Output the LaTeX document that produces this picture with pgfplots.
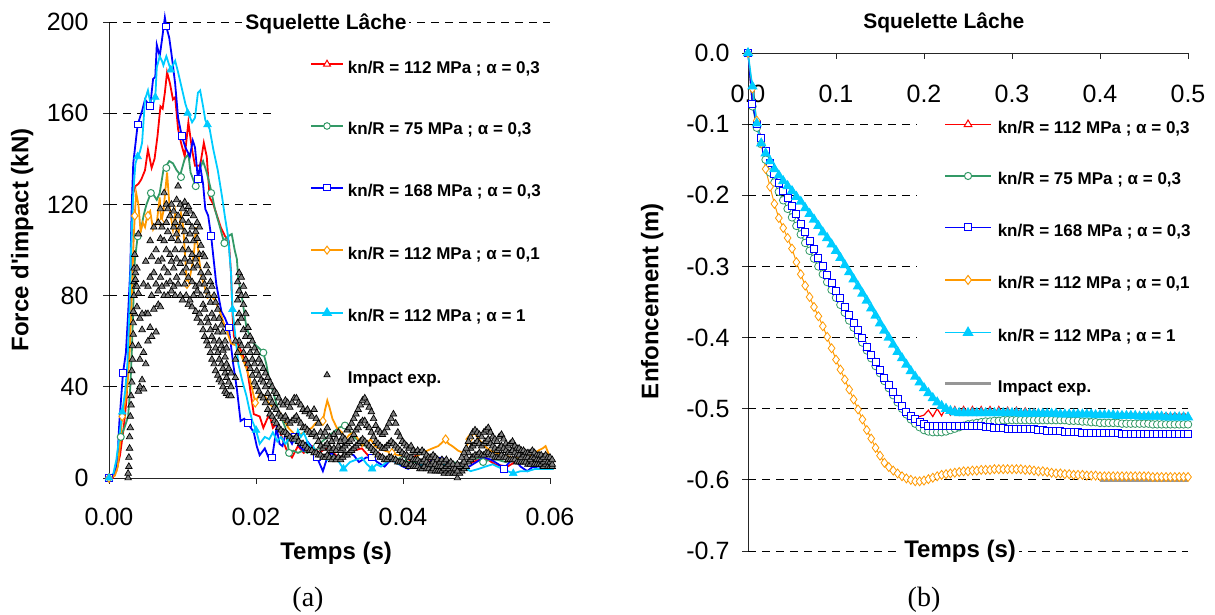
\documentclass[border=0pt]{standalone}
\usepackage{fontspec}
\setmainfont{Liberation Sans}
\newfontfamily\nolig{Liberation Sans}
\newfontfamily\serifcap{Liberation Serif}
\usepackage{pgfplots}
\usepackage{pgfplotstable}
\pgfplotsset{compat=1.18}

\definecolor{cred}{RGB}{255,0,0}
\definecolor{cgreen}{RGB}{51,153,102}
\definecolor{cblue}{RGB}{0,0,255}
\definecolor{corange}{RGB}{255,153,0}
\definecolor{ccyan}{RGB}{0,204,255}
\definecolor{cexpf}{RGB}{128,128,128}
\definecolor{cexpl}{RGB}{150,150,150}

\pgfplotstableread{
t a b c d e
0.0026 0 2 nan nan nan
0.0027 5 9 nan nan nan
0.0028 13 18 nan nan nan
0.0029 22 27 nan nan nan
0.0030 32 36 nan nan nan
0.0031 42 47 nan nan nan
0.0032 52 58 nan nan nan
0.0033 63 68 73 nan nan
0.0034 80 86 92 nan nan
0.0035 98 72 nan nan nan
0.0036 90 84 87 nan nan
0.0038 75 84 92 nan nan
0.0040 38 58 81 107 nan
0.0042 40 52 70 nan nan
0.0045 43 65 72 nan nan
0.0047 39 55 85 nan nan
0.0050 50 72 95 nan nan
0.0053 60 72 84 nan nan
0.0056 66 88 104 nan nan
0.0058 62 80 97 nan nan
0.0061 74 90 110 nan nan
0.0064 64 85 100 nan nan
0.0067 76 82 95 112 nan
0.0070 75 88 105 118 nan
0.0072 84 96 110 nan nan
0.0075 80 92 104 125 nan
0.0078 85 100 112 120 nan
0.0080 80 90 108 118 nan
0.0083 86 98 115 nan nan
0.0085 82 95 105 120 nan
0.0088 84 92 110 117 nan
0.0090 80 100 112 nan nan
0.0092 88 96 107 122 nan
0.0094 85 104 115 128 nan
0.0097 80 94 110 120 nan
0.0100 78 90 100 113 118
0.0103 85 96 108 121 nan
0.0105 80 92 104 116 nan
0.0108 76 88 100 112 119
0.0110 78 95 107 117 nan
0.0113 75 86 98 110 nan
0.0115 80 92 104 115 nan
0.0118 73 84 96 108 nan
0.0120 70 82 93 105 112
0.0123 72 85 98 110 nan
0.0125 68 80 90 102 nan
0.0128 65 76 88 98 nan
0.0130 62 74 85 97 nan
0.0133 60 70 82 93 nan
0.0135 58 68 80 90 nan
0.0138 55 65 77 86 nan
0.0140 52 62 72 84 nan
0.0143 50 60 70 80 nan
0.0145 47 57 66 77 nan
0.0148 45 55 64 74 nan
0.0150 43 52 60 70 nan
0.0153 42 50 58 67 nan
0.0155 40 48 56 64 nan
0.0158 38 46 53 60 nan
0.0160 37 44 50 57 nan
0.0163 36 42 48 nan nan
0.0166 36 40 46 nan nan
0.0172 44 52 60 nan nan
0.0175 55 68 78 86 nan
0.0177 60 72 82 90 nan
0.0180 58 70 80 88 nan
0.0183 55 65 76 84 nan
0.0186 52 62 72 80 nan
0.0189 50 58 66 nan nan
0.0192 48 55 62 nan nan
0.0195 45 52 60 nan nan
0.0198 42 50 57 nan nan
0.0201 40 47 55 nan nan
0.0204 38 45 52 nan nan
0.0207 36 43 50 nan nan
0.0210 35 42 48 nan nan
0.0213 33 40 46 nan nan
0.0216 30 37 44 nan nan
0.0219 28 35 42 nan nan
0.0222 27 33 40 nan nan
0.0225 25 31 38 nan nan
0.0228 24 30 37 nan nan
0.0231 22 28 35 nan nan
0.0234 21 27 33 nan nan
0.0237 20 26 32 nan nan
0.0240 20 27 34 nan nan
0.0243 19 25 33 nan nan
0.0246 18 24 31 nan nan
0.0249 17 25 33 nan nan
0.0252 17 26 35 nan nan
0.0255 18 27 35 nan nan
0.0258 16 25 33 nan nan
0.0261 15 24 32 nan nan
0.0264 15 22 30 nan nan
0.0267 14 22 29 nan nan
0.0270 13 21 30 nan nan
0.0273 12 20 28 nan nan
0.0276 12 19 27 nan nan
0.0279 11 20 30 nan nan
0.0282 11 18 26 nan nan
0.0285 10 16 24 nan nan
0.0288 10 14 20 nan nan
0.0291 9 13 18 nan nan
0.0294 9 14 20 nan nan
0.0297 10 15 22 nan nan
0.0300 9 13 18 nan nan
0.0303 8 12 16 nan nan
0.0306 9 13 19 nan nan
0.0309 8 12 17 nan nan
0.0312 9 14 20 nan nan
0.0315 8 12 16 nan nan
0.0318 9 13 18 nan nan
0.0321 10 14 17 nan nan
0.0324 10 15 21 nan nan
0.0327 11 16 22 nan nan
0.0330 12 17 24 nan nan
0.0333 13 19 26 nan nan
0.0336 14 21 28 nan nan
0.0339 15 22 30 nan nan
0.0342 16 24 32 nan nan
0.0345 17 25 34 nan nan
0.0348 16 25 35 nan nan
0.0351 15 23 33 nan nan
0.0354 14 22 31 nan nan
0.0357 13 20 29 nan nan
0.0360 12 18 26 nan nan
0.0363 11 16 23 nan nan
0.0366 10 15 21 nan nan
0.0369 9 14 20 nan nan
0.0372 9 13 19 nan nan
0.0375 8 13 20 nan nan
0.0378 8 14 22 nan nan
0.0381 9 15 24 nan nan
0.0384 9 16 26 nan nan
0.0387 8 15 28 nan nan
0.0390 8 14 24 nan nan
0.0393 7 13 20 nan nan
0.0396 7 12 18 nan nan
0.0399 7 11 16 nan nan
0.0402 6 10 15 nan nan
0.0405 6 10 14 nan nan
0.0408 5 9 13 nan nan
0.0411 6 9 14 nan nan
0.0414 5 8 12 nan nan
0.0417 5 8 11 nan nan
0.0420 5 8 12 nan nan
0.0423 4 7 11 nan nan
0.0426 4 7 12 nan nan
0.0429 5 8 11 nan nan
0.0432 4 7 10 nan nan
0.0435 4 6 9 nan nan
0.0438 3 6 9 nan nan
0.0441 4 7 10 nan nan
0.0444 3 6 9 nan nan
0.0447 3 5 8 nan nan
0.0450 3 5 7 nan nan
0.0453 3 5 8 nan nan
0.0456 2 4 7 nan nan
0.0459 3 5 8 nan nan
0.0462 2 4 6 nan nan
0.0465 3 5 7 nan nan
0.0468 2 4 6 nan nan
0.0471 2 4 nan nan nan
0.0474 0 3 6 nan nan
0.0477 2 5 nan nan nan
0.0480 3 6 9 nan nan
0.0483 4 7 11 nan nan
0.0486 5 9 13 nan nan
0.0489 7 11 16 nan nan
0.0492 8 13 18 nan nan
0.0495 9 14 20 nan nan
0.0498 10 15 21 nan nan
0.0501 10 16 20 nan nan
0.0504 11 15 19 nan nan
0.0507 10 14 18 nan nan
0.0510 10 15 20 nan nan
0.0513 11 16 21 nan nan
0.0516 11 17 22 nan nan
0.0519 10 15 20 nan nan
0.0522 10 14 18 nan nan
0.0525 9 13 17 nan nan
0.0528 9 12 16 nan nan
0.0531 9 13 18 nan nan
0.0534 10 14 19 nan nan
0.0537 9 13 17 nan nan
0.0540 9 12 15 nan nan
0.0543 8 11 14 nan nan
0.0546 8 11 15 nan nan
0.0549 8 12 16 nan nan
0.0552 8 11 14 nan nan
0.0555 7 10 13 nan nan
0.0558 7 10 13 nan nan
0.0561 7 9 12 nan nan
0.0564 7 10 12 nan nan
0.0567 7 9 11 nan nan
0.0570 6 9 11 nan nan
0.0573 6 8 11 nan nan
0.0576 7 9 12 nan nan
0.0579 6 9 11 nan nan
0.0582 6 8 10 nan nan
0.0585 6 8 10 nan nan
0.0588 6 8 10 nan nan
0.0591 5 7 9 nan nan
0.0594 6 8 10 nan nan
0.0597 5 7 9 nan nan
0.0600 5 7 9 nan nan
0.0603 5 6 8 nan nan
}\expdata

\pgfplotstableread{
t r g b o c
0.000 0 0 0 0 0
0.005 -0.072 -0.075 -0.072 -0.050 -0.047
0.010 -0.100 -0.105 -0.100 -0.095 -0.099
0.015 -0.120 -0.128 -0.120 -0.127 -0.127
0.020 -0.138 -0.150 -0.138 -0.163 -0.141
0.025 -0.155 -0.168 -0.155 -0.188 -0.152
0.030 -0.170 -0.182 -0.170 -0.212 -0.163
0.035 -0.183 -0.195 -0.183 -0.232 -0.172
0.040 -0.194 -0.207 -0.194 -0.246 -0.180
0.045 -0.204 -0.219 -0.204 -0.260 -0.187
0.050 -0.215 -0.231 -0.215 -0.275 -0.194
0.055 -0.227 -0.243 -0.227 -0.294 -0.202
0.060 -0.240 -0.255 -0.240 -0.311 -0.209
0.065 -0.252 -0.267 -0.252 -0.327 -0.218
0.070 -0.264 -0.278 -0.264 -0.343 -0.226
0.075 -0.276 -0.289 -0.276 -0.357 -0.234
0.080 -0.288 -0.300 -0.288 -0.370 -0.243
0.085 -0.300 -0.311 -0.300 -0.384 -0.252
0.090 -0.312 -0.322 -0.312 -0.399 -0.260
0.095 -0.323 -0.333 -0.323 -0.415 -0.269
0.100 -0.334 -0.344 -0.334 -0.431 -0.278
0.105 -0.345 -0.354 -0.345 -0.445 -0.288
0.110 -0.357 -0.365 -0.357 -0.459 -0.298
0.115 -0.368 -0.376 -0.368 -0.473 -0.308
0.120 -0.379 -0.386 -0.379 -0.487 -0.318
0.125 -0.390 -0.397 -0.390 -0.501 -0.328
0.130 -0.401 -0.407 -0.401 -0.515 -0.338
0.135 -0.413 -0.418 -0.413 -0.530 -0.348
0.140 -0.424 -0.429 -0.424 -0.542 -0.359
0.145 -0.435 -0.440 -0.435 -0.555 -0.369
0.150 -0.446 -0.450 -0.446 -0.566 -0.380
0.155 -0.457 -0.461 -0.457 -0.576 -0.390
0.160 -0.467 -0.471 -0.467 -0.582 -0.400
0.165 -0.477 -0.481 -0.477 -0.587 -0.410
0.170 -0.487 -0.491 -0.487 -0.591 -0.420
0.175 -0.495 -0.500 -0.496 -0.595 -0.429
0.180 -0.502 -0.508 -0.504 -0.598 -0.438
0.185 -0.507 -0.515 -0.510 -0.600 -0.447
0.190 -0.510 -0.521 -0.515 -0.602 -0.455
0.195 -0.511 -0.526 -0.519 -0.602 -0.463
0.200 -0.509 -0.530 -0.522 -0.601 -0.471
0.205 -0.502 -0.532 -0.524 -0.599 -0.478
0.210 -0.511 -0.533 -0.525 -0.597 -0.485
0.215 -0.500 -0.533 -0.525 -0.595 -0.491
0.220 -0.510 -0.533 -0.525 -0.593 -0.496
0.225 -0.498 -0.532 -0.525 -0.592 -0.500
0.230 -0.509 -0.530 -0.525 -0.591 -0.503
0.235 -0.497 -0.528 -0.525 -0.590 -0.505
0.240 -0.509 -0.526 -0.525 -0.589 -0.506
0.245 -0.497 -0.524 -0.525 -0.588 -0.506
0.250 -0.509 -0.522 -0.525 -0.588 -0.506
0.255 -0.497 -0.521 -0.525 -0.587 -0.506
0.260 -0.509 -0.520 -0.525 -0.587 -0.506
0.265 -0.497 -0.519 -0.525 -0.586 -0.506
0.270 -0.509 -0.518 -0.526 -0.586 -0.506
0.275 -0.497 -0.518 -0.526 -0.586 -0.506
0.280 -0.509 -0.517 -0.527 -0.585 -0.506
0.285 -0.497 -0.517 -0.527 -0.585 -0.506
0.290 -0.509 -0.516 -0.527 -0.585 -0.506
0.295 -0.498 -0.516 -0.528 -0.585 -0.506
0.300 -0.509 -0.516 -0.528 -0.585 -0.506
0.305 -0.498 -0.516 -0.528 -0.585 -0.506
0.310 -0.509 -0.516 -0.528 -0.585 -0.507
0.315 -0.499 -0.516 -0.529 -0.586 -0.507
0.320 -0.509 -0.516 -0.529 -0.586 -0.507
0.325 -0.500 -0.516 -0.529 -0.587 -0.507
0.330 -0.509 -0.516 -0.530 -0.588 -0.507
0.335 -0.501 -0.516 -0.530 -0.588 -0.507
0.340 -0.509 -0.516 -0.531 -0.589 -0.507
0.345 -0.502 -0.516 -0.531 -0.590 -0.507
0.350 -0.509 -0.516 -0.532 -0.591 -0.507
0.355 -0.503 -0.516 -0.532 -0.591 -0.508
0.360 -0.509 -0.516 -0.533 -0.592 -0.508
0.365 -0.503 -0.517 -0.533 -0.592 -0.508
0.370 -0.509 -0.517 -0.533 -0.593 -0.508
0.375 -0.503 -0.517 -0.533 -0.593 -0.508
0.380 -0.509 -0.518 -0.534 -0.593 -0.508
0.385 -0.504 -0.518 -0.534 -0.594 -0.508
0.390 -0.510 -0.519 -0.534 -0.594 -0.508
0.395 -0.504 -0.519 -0.534 -0.594 -0.509
0.400 -0.510 -0.520 -0.534 -0.595 -0.509
0.405 -0.505 -0.520 -0.534 -0.595 -0.509
0.410 -0.510 -0.520 -0.534 -0.595 -0.509
0.415 -0.505 -0.520 -0.534 -0.595 -0.509
0.420 -0.510 -0.520 -0.534 -0.595 -0.510
0.425 -0.505 -0.521 -0.535 -0.595 -0.510
0.430 -0.510 -0.521 -0.535 -0.595 -0.510
0.435 -0.505 -0.521 -0.535 -0.595 -0.510
0.440 -0.510 -0.521 -0.535 -0.595 -0.510
0.445 -0.506 -0.521 -0.535 -0.595 -0.511
0.450 -0.510 -0.521 -0.535 -0.595 -0.511
0.455 -0.506 -0.521 -0.535 -0.595 -0.511
0.460 -0.510 -0.522 -0.535 -0.596 -0.511
0.465 -0.506 -0.522 -0.536 -0.596 -0.511
0.470 -0.510 -0.522 -0.536 -0.596 -0.511
0.475 -0.506 -0.522 -0.536 -0.596 -0.512
0.480 -0.510 -0.522 -0.536 -0.596 -0.512
0.485 -0.506 -0.522 -0.536 -0.596 -0.512
0.490 -0.510 -0.522 -0.536 -0.596 -0.512
0.495 -0.506 -0.522 -0.536 -0.596 -0.512
0.500 -0.510 -0.522 -0.536 -0.596 -0.512
}\enfdata

\pgfplotsset{
  panel/.style={
    scale only axis, clip=false,
    axis line style={black!85, line width=0.8pt, -},
    tick style={black!85, line width=0.8pt},
    major tick length=6pt,
    tick label style={font=\fontsize{25}{28}\selectfont},
    label style={font=\fontsize{24}{28}\selectfont\bfseries},
    title style={font=\fontsize{21}{24}\selectfont\bfseries, fill=white, inner sep=3pt},
    legend cell align=left,
    scaled x ticks=false, scaled y ticks=false,
  },
  gridl/.style={black, line width=0.8pt, dash pattern=on 8pt off 6pt, forget plot},
}

\begin{document}
\begin{tikzpicture}
\useasboundingbox (0pt,0pt) rectangle (1215pt,615pt);

% ---------------- Panel (a) ----------------
\begin{axis}[panel,
  at={(109pt,137pt)}, anchor=south west,
  width=441pt, height=456pt,
  xmin=0, xmax=0.06, ymin=0, ymax=200,
  axis x line*=bottom, axis y line*=left,
  xtick align=outside, ytick align=outside,
  xtick={0,0.02,0.04,0.06}, xticklabels={0.00,0.02,0.04,0.06},
  ytick={0,40,80,120,160,200}, yticklabels={0,40,80,120,160,200},
  xticklabel style={yshift=-21pt},
  yticklabel style={xshift=-11pt},
  title={Squelette Lâche}, title style={at={(0.492,0.983)}, anchor=center},
  xlabel={Temps (s)}, xlabel style={at={(0.515,-0.166)}, anchor=center},
  ylabel={\nolig\bfseries Force d'impact (kN)}, ylabel style={at={(-0.197,0.522)}, anchor=center},
  legend image code/.code={\draw[mark repeat=2,mark phase=2,#1] plot coordinates {(0pt,5pt) (16pt,5pt) (32pt,5pt)};},
  legend style={at={(0.374,0.943)}, anchor=north west, draw=none, fill=none,
    inner xsep=36pt, inner ysep=12pt, row sep=45.5pt, column sep=4pt,
    font=\fontsize{17}{20}\selectfont\bfseries,
    nodes={inner sep=0pt, text height=12pt, text depth=4pt}},
]
% grid lines
\addplot[gridl] coordinates {(0,40)(0.0223,40)};
\addplot[gridl] coordinates {(0,80)(0.0223,80)};
\addplot[gridl] coordinates {(0,120)(0.0223,120)};
\addplot[gridl] coordinates {(0,160)(0.0223,160)};
\addplot[gridl] coordinates {(0,200)(0.06,200)};
% red
\addplot[cred, line width=1.8pt, forget plot] coordinates {
(0,0)(0.0005,0)(0.0010,3)(0.0015,10)(0.0020,22)(0.0024,35)(0.0027,60)(0.0030,100)(0.0033,125)(0.0036,128)(0.0040,129)(0.0044,131)(0.0049,135)(0.0053,144)(0.0058,136)(0.0062,140)(0.0066,150)(0.0070,163)(0.0073,162)(0.0076,169)(0.0079,178)(0.0083,173)(0.0087,166)(0.0090,167)(0.0094,153)(0.0098,147)(0.0103,141)(0.0108,156)(0.0113,144)(0.0117,137)(0.0124,137)(0.0129,147)(0.0133,141)(0.0137,123)(0.0142,120)(0.0147,115)(0.0152,110)(0.0158,106)(0.0163,104)(0.0166,90)(0.0168,72)(0.0170,62)(0.0178,57)(0.0187,50)(0.0192,39)(0.0197,28)(0.0205,27)(0.0210,22)(0.0218,28)(0.0223,22)(0.0229,24)(0.0236,17)(0.0242,12)(0.0249,9)(0.0257,14)(0.0265,11)(0.0276,14)(0.0286,11)(0.0295,13)(0.0302,12)(0.0312,9)(0.0323,10)(0.0333,12)(0.0344,13)(0.0355,9)(0.0367,11)(0.0377,8)(0.0385,9)(0.0396,7)(0.0407,7)(0.0418,10)(0.0428,11)(0.0440,7)(0.0453,8)(0.0466,5)(0.0480,6)(0.0495,7)(0.0511,9)(0.0525,6)(0.0542,5)(0.0558,8)(0.0574,7)(0.0590,5)(0.0605,4)};
% green
\addplot[cgreen, line width=1.8pt, forget plot] coordinates {
(0,0)(0.0008,2)(0.0013,10)(0.0016,18)(0.0021,22)(0.0026,27)(0.0029,40)(0.0031,55)(0.0033,75)(0.0035,95)(0.0039,106)(0.0043,108)(0.0047,115)(0.0051,120)(0.0057,125)(0.0061,124)(0.0065,122)(0.0069,125)(0.0074,135)(0.0078,137)(0.0082,139)(0.0087,138)(0.0092,135)(0.0097,133)(0.0103,140)(0.0108,142)(0.0111,134)(0.0118,128)(0.0124,136)(0.0128,139)(0.0133,134)(0.0139,126)(0.0144,118)(0.0151,110)(0.0156,104)(0.0162,106)(0.0167,107)(0.0171,100)(0.0174,96)(0.0176,87)(0.0181,79)(0.0187,66)(0.0192,62)(0.0197,59)(0.0204,57)(0.0210,55)(0.0214,50)(0.0218,43)(0.0224,37)(0.0229,31)(0.0235,26)(0.0240,22)(0.0245,11)(0.0251,12)(0.0257,11)(0.0264,12)(0.0270,11)(0.0277,13)(0.0283,14)(0.0290,16)(0.0297,18)(0.0305,20)(0.0312,22)(0.0321,23)(0.0327,21)(0.0333,18)(0.0341,16)(0.0349,14)(0.0357,12)(0.0365,11)(0.0375,9)(0.0387,9)(0.0399,8)(0.0408,7)(0.0417,7)(0.0428,8)(0.0438,9)(0.0455,8)(0.0468,7)(0.0480,6)(0.0493,8)(0.0505,9)(0.0509,7)(0.0518,8)(0.0528,8)(0.0540,7)(0.0555,9)(0.0568,7)(0.0580,5)(0.0592,6)(0.0605,5)};
\addplot[only marks, mark=*, mark size=3.5pt, mark options={draw=cgreen, fill=white, line width=1pt}, forget plot] coordinates {
(0,0)(0.0016,18)(0.0039,106)(0.0057,125)(0.0078,136)(0.0098,132)(0.0118,128)(0.0139,125)(0.0157,103)(0.0210,55)(0.0245,11)(0.0283,14)(0.0321,23)(0.0399,8)(0.0509,7)};
% blue
\addplot[cblue, line width=1.8pt, forget plot] coordinates {
(0,0)(0.0006,1)(0.0011,5)(0.0014,24)(0.0019,46)(0.0023,55)(0.0026,72)(0.0029,92)(0.0031,120)(0.0033,138)(0.0039,155)(0.0045,161)(0.0049,166)(0.0056,163)(0.0060,175)(0.0063,176)(0.0065,190)(0.0069,185)(0.0072,192)(0.0076,202)(0.0078,198)(0.0082,193)(0.0085,186)(0.0090,173)(0.0094,158)(0.0099,150)(0.0104,145)(0.0110,141)(0.0114,148)(0.0117,145)(0.0121,131)(0.0124,137)(0.0128,129)(0.0131,118)(0.0135,115)(0.0139,106)(0.0142,97)(0.0146,85)(0.0150,78)(0.0153,73)(0.0158,70)(0.0163,66)(0.0166,58)(0.0169,50)(0.0174,39)(0.0179,25)(0.0184,26)(0.0189,24)(0.0193,22)(0.0197,20)(0.0201,14)(0.0205,10)(0.0212,13)(0.0217,9)(0.0222,9)(0.0228,22)(0.0232,15)(0.0236,14)(0.0240,19)(0.0244,18)(0.0249,15)(0.0253,18)(0.0259,14)(0.0265,12)(0.0270,16)(0.0275,14)(0.0280,11)(0.0283,9)(0.0287,6)(0.0291,3)(0.0296,8)(0.0302,11)(0.0310,9)(0.0317,8)(0.0325,11)(0.0333,10)(0.0340,7)(0.0350,9)(0.0358,9)(0.0365,7)(0.0375,5)(0.0383,8)(0.0390,7)(0.0400,5)(0.0407,4)(0.0418,6)(0.0430,5)(0.0440,8)(0.0453,9)(0.0465,6)(0.0480,5)(0.0490,5)(0.0500,7)(0.0510,9)(0.0520,8)(0.0530,6)(0.0537,4)(0.0545,7)(0.0550,9)(0.0560,5)(0.0569,3)(0.0577,5)(0.0584,4)(0.0595,6)(0.0605,5)};
\addplot[only marks, mark=square*, mark size=3.4pt, mark options={draw=cblue, fill=white, line width=1pt}, forget plot] coordinates {
(0,0)(0.0019,46)(0.0039,155)(0.0056,163)(0.0078,198)(0.0099,150)(0.0121,131)(0.0139,106)(0.0163,66)(0.0189,24)(0.0222,9)(0.0253,18)(0.0283,9)(0.0358,9)(0.0537,4)};
% orange
\addplot[corange, line width=1.8pt, forget plot] coordinates {
(0,0)(0.0008,1)(0.0012,5)(0.0015,15)(0.0018,27)(0.0022,33)(0.0025,40)(0.0028,55)(0.0031,80)(0.0033,100)(0.0035,115)(0.0037,125)(0.0040,120)(0.0043,108)(0.0046,112)(0.0049,110)(0.0052,115)(0.0056,117)(0.0060,109)(0.0065,112)(0.0069,123)(0.0071,112)(0.0074,117)(0.0079,134)(0.0081,125)(0.0083,117)(0.0087,109)(0.0090,116)(0.0093,103)(0.0098,116)(0.0101,110)(0.0103,100)(0.0106,85)(0.0110,88)(0.0113,93)(0.0116,100)(0.0118,110)(0.0121,101)(0.0123,95)(0.0126,88)(0.0130,84)(0.0134,79)(0.0139,80)(0.0144,78)(0.0148,75)(0.0152,72)(0.0156,68)(0.0160,65)(0.0166,59)(0.0174,58)(0.0181,53)(0.0187,48)(0.0192,43)(0.0199,33)(0.0205,37)(0.0212,36)(0.0217,33)(0.0223,31)(0.0229,30)(0.0234,28)(0.0239,25)(0.0244,22)(0.0250,20)(0.0255,18)(0.0260,19)(0.0265,20)(0.0271,21)(0.0276,22)(0.0281,24)(0.0286,25)(0.0291,25)(0.0294,30)(0.0297,34)(0.0300,31)(0.0304,26)(0.0310,22)(0.0317,20)(0.0322,17)(0.0327,19)(0.0333,20)(0.0339,17)(0.0344,14)(0.0350,15)(0.0356,17)(0.0362,14)(0.0367,13)(0.0375,12)(0.0385,11)(0.0393,10)(0.0400,10)(0.0410,9)(0.0417,9)(0.0425,11)(0.0433,12)(0.0440,13)(0.0448,14)(0.0458,17)(0.0462,15)(0.0467,14)(0.0475,12)(0.0482,11)(0.0487,14)(0.0490,17)(0.0497,20)(0.0503,17)(0.0511,14)(0.0519,12)(0.0527,11)(0.0537,10)(0.0548,9)(0.0557,9)(0.0566,8)(0.0575,10)(0.0584,12)(0.0590,13)(0.0594,14)(0.0600,9)(0.0605,5)};
\addplot[only marks, mark=diamond*, mark size=4.3pt, mark options={draw=corange, fill=white, line width=1pt}, forget plot] coordinates {
(0,0)(0.0018,27)(0.0035,115)(0.0053,115)(0.0071,112)(0.0106,85)(0.0199,33)(0.0291,25)(0.0385,11)(0.0458,17)(0.0490,17)};
% cyan
\addplot[ccyan, line width=1.8pt, forget plot] coordinates {
(0,0)(0.0006,2)(0.0010,8)(0.0014,18)(0.0018,29)(0.0022,38)(0.0025,50)(0.0028,75)(0.0030,100)(0.0033,125)(0.0036,138)(0.0039,141)(0.0042,143)(0.0045,147)(0.0049,166)(0.0053,170)(0.0056,165)(0.0060,164)(0.0063,167)(0.0065,180)(0.0069,185)(0.0072,183)(0.0074,181)(0.0078,185)(0.0081,182)(0.0084,179)(0.0090,183)(0.0094,178)(0.0099,171)(0.0104,164)(0.0108,160)(0.0113,156)(0.0117,158)(0.0121,169)(0.0124,170)(0.0128,163)(0.0131,157)(0.0134,155)(0.0137,153)(0.0142,144)(0.0148,135)(0.0154,123)(0.0158,114)(0.0162,106)(0.0166,90)(0.0168,74)(0.0171,65)(0.0176,50)(0.0181,43)(0.0187,36)(0.0191,30)(0.0195,25)(0.0200,21)(0.0205,15)(0.0212,18)(0.0218,17)(0.0223,20)(0.0229,16)(0.0234,18)(0.0240,15)(0.0244,17)(0.0249,18)(0.0253,16)(0.0257,21)(0.0261,18)(0.0265,20)(0.0271,15)(0.0278,12)(0.0286,11)(0.0292,9)(0.0297,8)(0.0306,10)(0.0313,7)(0.0319,4)(0.0328,7)(0.0336,8)(0.0344,9)(0.0351,6)(0.0358,4)(0.0364,6)(0.0370,5)(0.0378,7)(0.0385,8)(0.0394,6)(0.0403,6)(0.0410,5)(0.0417,5)(0.0428,6)(0.0440,4)(0.0448,5)(0.0457,6)(0.0468,4)(0.0480,5)(0.0492,3)(0.0503,4)(0.0512,5)(0.0522,6)(0.0535,4)(0.0550,2)(0.0560,3)(0.0570,3)(0.0580,4)(0.0590,4)(0.0605,4)};
\addplot[only marks, mark=triangle*, mark size=4.4pt, mark options={draw=ccyan, fill=ccyan, line width=0.6pt}, forget plot] coordinates {
(0,0)(0.0018,29)(0.0039,141)(0.0063,167)(0.0084,179)(0.0107,160)(0.0134,155)(0.0168,74)(0.0200,21)(0.0278,12)(0.0319,4)(0.0358,4)(0.0550,2)};
% experiment
\foreach \col in {a,b,c,d,e}{
\addplot[only marks, mark=triangle*, mark size=3.8pt, mark options={draw=black, fill=cexpf, line width=0.7pt}, forget plot] table[x=t, y=\col] {\expdata};
}
\addlegendimage{cred, line width=1.8pt, mark=triangle*, mark size=4pt, mark options={fill=white, line width=1pt}}
\addlegendentry{kn/R = 112 MPa ; α = 0,3}
\addlegendimage{cgreen, line width=1.8pt, mark=*, mark size=3.3pt, mark options={fill=white, line width=1pt}}
\addlegendentry{kn/R = 75 MPa ; α = 0,3}
\addlegendimage{cblue, line width=1.8pt, mark=square*, mark size=3.2pt, mark options={fill=white, line width=1pt}}
\addlegendentry{kn/R = 168 MPa ; α = 0,3}
\addlegendimage{corange, line width=1.8pt, mark=diamond*, mark size=4pt, mark options={fill=white, line width=1pt}}
\addlegendentry{kn/R = 112 MPa ; α = 0,1}
\addlegendimage{ccyan, line width=1.8pt, mark=triangle*, mark size=4.2pt, mark options={fill=ccyan}}
\addlegendentry{kn/R = 112 MPa ; α = 1}
\addlegendimage{only marks, mark=triangle*, mark size=3.6pt, mark options={draw=black, fill=cexpf, line width=0.7pt}}
\addlegendentry{Impact exp.}
\end{axis}

% ---------------- Panel (b) ----------------
\begin{axis}[panel,
  at={(748pt,64pt)}, anchor=south west,
  width=440pt, height=498pt,
  xmin=0, xmax=0.5, ymin=-0.7, ymax=0,
  axis x line*=top, axis y line*=left,
  xtick align=inside, ytick align=outside,
  xtick={0,0.1,0.2,0.3,0.4,0.5}, xticklabels={0.0,0.1,0.2,0.3,0.4,0.5},
  ytick={-0.7,-0.6,-0.5,-0.4,-0.3,-0.2,-0.1,0},
  yticklabels={-0.7,-0.6,-0.5,-0.4,-0.3,-0.2,-0.1,0.0},
  xticklabel style={anchor=north, yshift=-29pt},
  yticklabel style={xshift=-9pt},
  title={Squelette Lâche}, title style={at={(0.445,1.048)}, anchor=center},
  xlabel={Temps (s)}, xlabel style={at={(0.482,0.0)}, anchor=center, fill=white, inner sep=3pt},
  ylabel={Enfoncement (m)}, ylabel style={at={(-0.218,0.502)}, anchor=center},
  legend image code/.code={\draw[mark repeat=2,mark phase=2,#1] plot coordinates {(0pt,5pt) (23pt,5pt) (46pt,5pt)};},
  legend style={at={(0.382,0.886)}, anchor=north west, draw=none, fill=none,
    inner xsep=27pt, inner ysep=10pt, row sep=35pt, column sep=5pt,
    font=\fontsize{17}{20}\selectfont\bfseries,
    nodes={inner sep=0pt, text height=12pt, text depth=4pt}},
]
\addplot[gridl] coordinates {(0,-0.1)(0.191,-0.1)};
\addplot[gridl] coordinates {(0,-0.2)(0.191,-0.2)};
\addplot[gridl] coordinates {(0,-0.3)(0.191,-0.3)};
\addplot[gridl] coordinates {(0,-0.4)(0.191,-0.4)};
\addplot[gridl] coordinates {(0,-0.5)(0.5,-0.5)};
\addplot[gridl] coordinates {(0,-0.6)(0.5,-0.6)};
\addplot[gridl] coordinates {(0,-0.7)(0.5,-0.7)};
\addplot[cred, line width=1.2pt, forget plot] table[x=t, y=r] {\enfdata};
\addplot[cgreen, line width=1pt, mark=*, mark size=3.8pt, mark options={fill=white, line width=0.8pt}, forget plot] table[x=t, y=g] {\enfdata};
\addplot[cblue, line width=1.3pt, mark=square*, mark size=3.5pt, mark options={fill=white, line width=1pt}, forget plot] table[x=t, y=b] {\enfdata};
\addplot[corange, line width=1pt, mark=diamond*, mark size=4.5pt, mark options={fill=white, line width=0.8pt}, forget plot] table[x=t, y=o] {\enfdata};
\addplot[ccyan, line width=1.5pt, mark=triangle*, mark size=4.6pt, mark options={fill=ccyan}, forget plot] table[x=t, y=c] {\enfdata};
\addplot[cexpl, line width=3.5pt, forget plot] coordinates {(0.4,-0.6)(0.5,-0.6)};
\addlegendimage{cred, line width=1.5pt, mark=triangle*, mark size=4.4pt, mark options={fill=white, line width=1pt}}
\addlegendentry{kn/R = 112 MPa ; α = 0,3}
\addlegendimage{cgreen, line width=1.5pt, mark=*, mark size=3.6pt, mark options={fill=white, line width=1pt}}
\addlegendentry{kn/R = 75 MPa ; α = 0,3}
\addlegendimage{cblue, line width=1.5pt, mark=square*, mark size=3.5pt, mark options={fill=white, line width=1pt}}
\addlegendentry{kn/R = 168 MPa ; α = 0,3}
\addlegendimage{corange, line width=1.5pt, mark=diamond*, mark size=4.5pt, mark options={fill=white, line width=1pt}}
\addlegendentry{kn/R = 112 MPa ; α = 0,1}
\addlegendimage{ccyan, line width=1.8pt, mark=triangle*, mark size=4.6pt, mark options={fill=ccyan}}
\addlegendentry{kn/R = 112 MPa ; α = 1}
\addlegendimage{cexpl, line width=3.5pt}
\addlegendentry{Impact exp.}
\end{axis}

\node[font=\serifcap\fontsize{28}{30}\selectfont] at (308pt,15pt) {(a)};
\node[font=\serifcap\fontsize{28}{30}\selectfont] at (924pt,15pt) {(b)};
\end{tikzpicture}
\end{document}
